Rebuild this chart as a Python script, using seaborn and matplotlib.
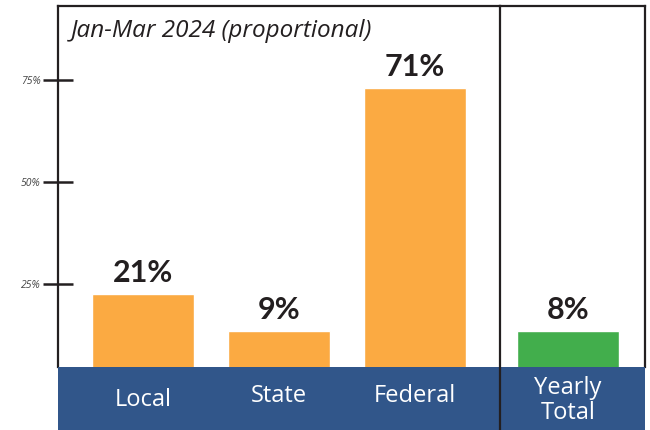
import matplotlib
matplotlib.use('Agg')
import matplotlib.pyplot as plt
import seaborn as sns

# 数据
categories = ['Local', 'State', 'Federal']
bar_heights = [22.5, 13.5, 73]        # 图中柱子的实际高度（按刻度读取）
value_labels = ['21%', '9%', '71%']
total_category = ['Yearly\nTotal']
total_height = [13.5]
total_label = ['8%']
tick_values = [25, 50, 75]
tick_labels = ['25%', '50%', '75%']
title = 'Jan-Mar 2024 (proportional)'

orange = '#FBAA42'
green = '#42AE4C'
band = '#31568A'
ink = '#231F20'

sns.set_style('white')
plt.rcParams['font.family'] = ['Open Sans', 'DejaVu Sans']

fig = plt.figure(figsize=(6.5, 4.3), dpi=100)
W, H = 650, 430
ax1 = fig.add_axes([58 / W, 0, 442 / W, 424 / H])
ax2 = fig.add_axes([500 / W, 0, 145 / W, 424 / H], sharey=ax1)

ylo, yhi = -10.78, 93.14
band_top = 4.66

sns.barplot(x=categories, y=bar_heights, color=orange, saturation=1,
            width=0.75, ax=ax1, zorder=2)
sns.barplot(x=total_category, y=total_height, color=green, saturation=1,
            width=0.75, ax=ax2, zorder=2)

ax1.set_xlim(-0.625, 2.625)
ax2.set_xlim(-0.5, 0.566)
ax1.set_ylim(ylo, yhi)

for ax in (ax1, ax2):
    ax.axhspan(ylo, band_top, color=band, zorder=3, lw=0)
    ax.set_xlabel('')
    ax.set_ylabel('')
    ax.set_xticks([])
    for s in ax.spines.values():
        s.set_color(ink)
        s.set_linewidth(1.6)
    ax.spines['bottom'].set_visible(False)
    ax.patch.set_alpha(0)

# 左侧面板
ax1.spines['right'].set_visible(False)
ax1.spines['left'].set_bounds(band_top, yhi)
ax1.set_yticks(tick_values, labels=tick_labels)
ax1.tick_params(axis='y', left=True, direction='inout', length=21, width=1.8,
                color=ink, pad=2, labelsize=7.5, labelcolor='#444444')
for t in ax1.get_yticklabels():
    t.set_fontstyle('italic')

# 右侧面板
ax2.spines['left'].set_zorder(5)
ax2.spines['right'].set_bounds(band_top, yhi)
ax2.tick_params(axis='y', left=False, labelleft=False)

# 数值标签
bold = dict(fontsize=22, fontweight='bold', color=ink,
            family=['Lato', 'DejaVu Sans'])
ax1.bar_label(ax1.containers[0], labels=value_labels, padding=5, **bold)
ax2.bar_label(ax2.containers[0], labels=total_label, padding=5, **bold)

# 分类标签（蓝色条带内）
band_mid = (ylo + band_top) / 2
for i, c in enumerate(categories):
    dy = -0.4 if i == 0 else 0.5
    ax1.text(i, band_mid + dy, c, color='white', fontsize=17,
             ha='center', va='center', zorder=4)
ax2.text(0, band_mid - 0.5, total_category[0], color='white', fontsize=17,
         ha='center', va='center', linespacing=1.1, zorder=4)

# 标题
ax1.text(0.03, 0.94, title, transform=ax1.transAxes, fontsize=17.5,
         fontstyle='italic', color=ink, ha='left', va='center')

fig.savefig('out.png', dpi=100)
